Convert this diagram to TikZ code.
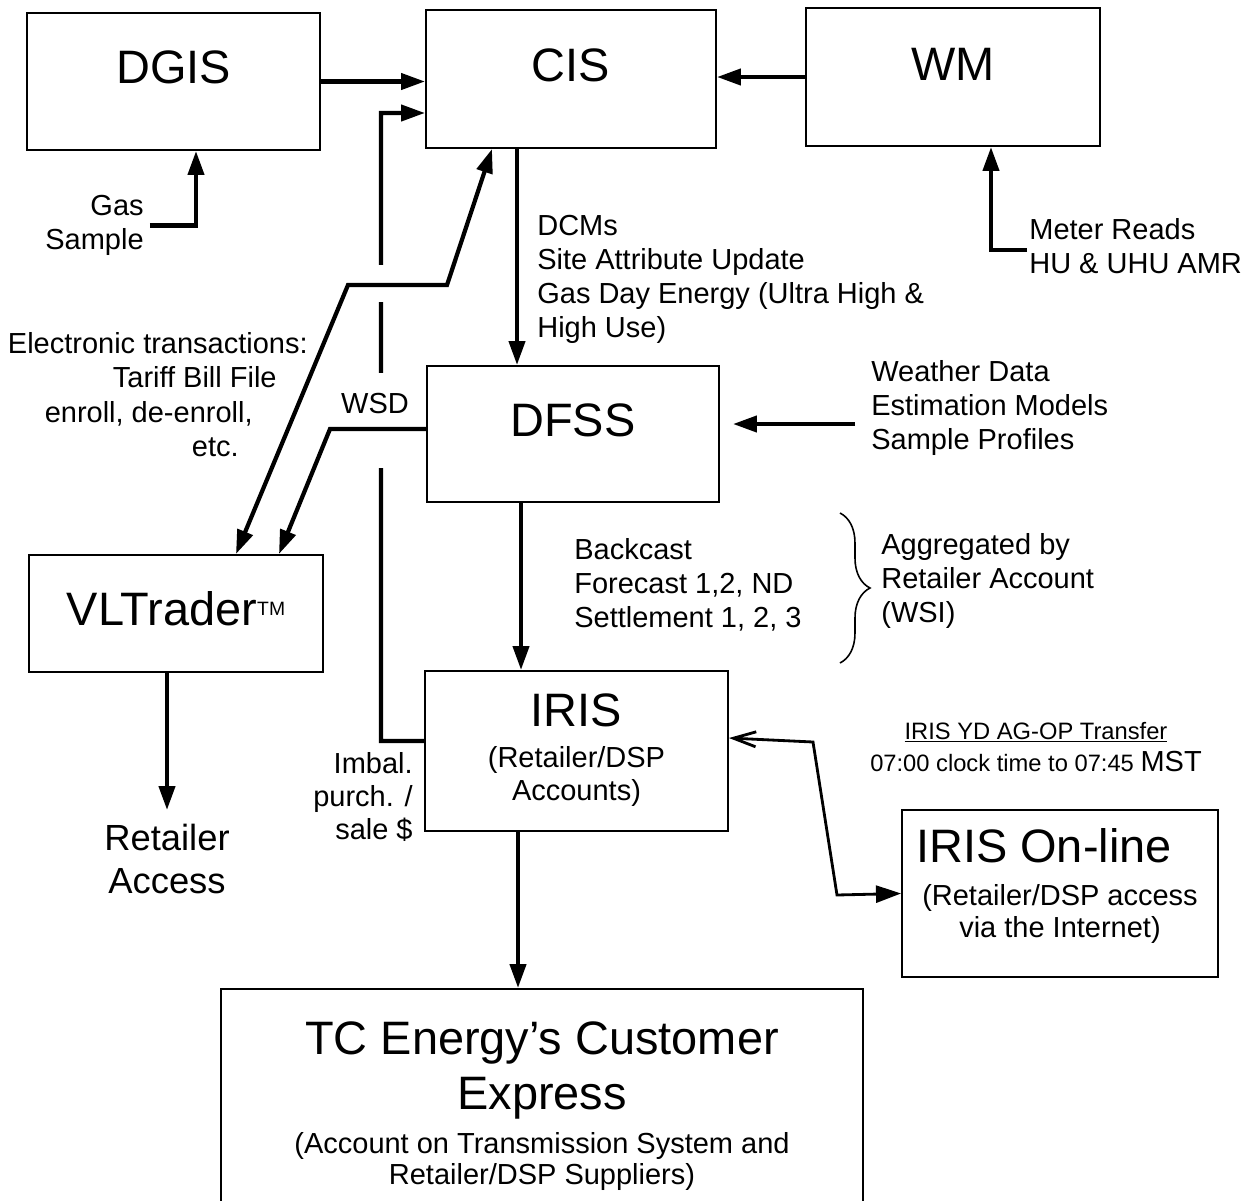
\documentclass[tikz,border=0pt]{standalone}
\usepackage{fontspec}
\setmainfont{Liberation Sans}
\usetikzlibrary{arrows.meta, positioning, calc, decorations.pathreplacing}

\begin{document}
\begin{tikzpicture}[x=0.02cm, y=-0.02cm,
    sysbox/.style={rectangle, draw, line width=1.15pt, inner sep=0pt},
    bigtxt/.style={font=\fontsize{26.7}{31.3}\selectfont, inner sep=0pt, anchor=base},
    txt/.style={font=\fontsize{16.5}{19.35}\selectfont, inner sep=0pt},
    flow/.style={line width=2.4pt, -{Triangle[length=0.48cm, width=0.32cm]}}]
    % Page frame
    \useasboundingbox (0,0) rectangle (1249,1201);

    % Systems
    \node[sysbox, minimum width=5.86cm, minimum height=2.74cm] (dgis) at (173.5,81.5) {};
    \node[sysbox, minimum width=5.80cm, minimum height=2.76cm] (cis) at (571,79) {};
    \node[sysbox, minimum width=5.88cm, minimum height=2.76cm] (wm) at (953,77) {};
    \node[sysbox, minimum width=5.84cm, minimum height=2.72cm] (dfss) at (573,434) {};
    \node[sysbox, minimum width=5.88cm, minimum height=2.34cm] (vlt) at (176,613.5) {};
    \node[sysbox, minimum width=6.06cm, minimum height=3.20cm] (iris) at (576.5,751) {};
    \node[sysbox, minimum width=6.32cm, minimum height=3.34cm] (online) at (1060,893.5) {};
    \node[sysbox, minimum width=12.84cm, minimum height=4.64cm] (tc) at (542,1105) {};

    % System names
    \node[bigtxt] (dgislbl) at ([yshift=-1.44cm]dgis.north) {DGIS};
    \node[bigtxt] (cislbl) at ([yshift=-1.46cm]cis.north) {CIS};
    \node[bigtxt] (wmlbl) at ([yshift=-1.48cm]wm.north) {WM};
    \node[bigtxt] (dfsslbl) at ([yshift=-1.44cm]dfss.north) {DFSS};
    \node[bigtxt] (vltlbl) at ([yshift=-1.44cm]vlt.north) {VLTrader\raisebox{0.2cm}{\fontsize{11}{11}\selectfont TM}};
    \node[bigtxt] (irislbl) at ([yshift=-1.12cm]iris.north) {IRIS};
    \node[bigtxt] (onlinelbl) at ([xshift=-0.32cm, yshift=-1.06cm]online.north) {IRIS On-line};
    \node[bigtxt, anchor=north, align=center] (tclbl) at ([yshift=-0.66cm]tc.north) {TC Energy’s Customer\\Express};

    \node[txt, anchor=north, align=center, font=\fontsize{16.5}{18.8}\selectfont] (irissub)
        at ([yshift=-1.52cm]iris.north) {(Retailer/DSP\\Accounts)};
    \node[txt, anchor=north, align=center, font=\fontsize{16.5}{18.2}\selectfont] (onlinesub)
        at ([yshift=-1.5cm]online.north) {(Retailer/DSP access\\via the Internet)};
    \node[txt, anchor=north, align=center, font=\fontsize{16.5}{17.6}\selectfont] (tcsub)
        at ([yshift=-2.88cm]tc.north) {(Account on Transmission System and\\Retailer/DSP Suppliers)};

    % Notes
    \node[txt, anchor=north east, align=right] (gas) at (144,195) {Gas\\Sample};
    \node[txt, anchor=north west, align=left] (dcms) at (537,215)
        {DCMs\\Site Attribute Update\\Gas Day Energy (Ultra High \&\\High Use)};
    \node[txt, anchor=north west, align=left] (meter) at (1029,218) {Meter Reads\\HU \& UHU AMR};
    \node[txt, anchor=base east] (elec1) at (308,353) {Electronic transactions:};
    \node[txt, anchor=base east] (elec2) at (277,387.5) {Tariff Bill File};
    \node[txt, anchor=base east] (elec3) at (253,422) {enroll, de-enroll,};
    \node[txt, anchor=base east] (elec4) at (239,456) {etc.};
    \node[txt, anchor=north west, align=left] (weather) at (871,360)
        {Weather Data\\Estimation Models\\Sample Profiles};
    \node[txt, anchor=north west, align=left] (fcast) at (574,538)
        {Backcast\\Forecast 1,2, ND\\Settlement 1, 2, 3};
    \node[txt, anchor=north west, align=left] (aggr) at (881,533)
        {Aggregated by\\Retailer Account\\(WSI)};
    \node[txt, anchor=north east, align=right, font=\fontsize{16.5}{18.8}\selectfont] (imbal)
        at (413,752) {Imbal.\\purch. /\\sale \$};
    \node[txt, anchor=north, align=center, font=\fontsize{13.5}{18.2}\selectfont] (xfer) at (1036,721.5)
        {\underline{IRIS YD AG-OP Transfer}\\07:00 clock time to 07:45 {\fontsize{16.5}{18.2}\selectfont MST}};
    \node[txt, anchor=north, align=center, font=\fontsize{20.7}{24.5}\selectfont] (retail) at (167,824)
        {Retailer\\Access};

    % Brace for aggregation
    \coordinate (bracetop) at (840,513);
    \coordinate (bracebot) at (840,663);
    \draw[line width=0.9pt, decorate, decoration={brace, amplitude=0.6cm}] (bracetop) -- (bracebot);

    % Imbalance back to CIS (broken where lines cross)
    \coordinate (imbk) at (381,113);
    \draw[flow] ([yshift=0.2cm]iris.west) -| (imbk) -- ([yshift=-0.68cm]cis.west);
    \fill[white] (372,265) rectangle (390,302);
    \fill[white] (372,373) rectangle (390,468);
    \node[txt] (wsd) at (375,404) {WSD};

    % Flows
    \draw[flow] (dgis.east) -- (dgis.east -| cis.west);
    \draw[flow] (wm.west) -- (wm.west -| cis.east);
    \draw[flow] ([xshift=0.12cm]gas.east) -| ([xshift=0.45cm]dgis.south);
    \draw[flow] ([xshift=-0.04cm, yshift=-0.08cm]meter.west) -| ([xshift=0.76cm]wm.south);
    \draw[flow] ([xshift=-1.08cm]cis.south) -- ([xshift=-1.08cm]cis.south |- dfss.north);
    \coordinate (dfssin) at ([yshift=0.2cm]dfss.east);
    \draw[flow, shorten >=0.26cm] ([xshift=-0.32cm]weather.west |- dfssin) -- (dfssin);
    \draw[flow] ([xshift=-1.04cm]dfss.south) -- ([xshift=-1.04cm]dfss.south |- iris.north);
    \draw[flow] ([xshift=-1.17cm]iris.south) -- ([xshift=-1.17cm]iris.south |- tc.north);
    \draw[flow, shorten >=0.28cm] ([xshift=-0.18cm]vlt.south) -- ([xshift=-0.18cm]vlt.south |- retail.north);

    % Electronic transactions and WSD to VLTrader
    \coordinate (etk1) at (447,285);
    \coordinate (etk2) at (348,285);
    \draw[flow, {Triangle[length=0.48cm, width=0.32cm]}-{Triangle[length=0.48cm, width=0.32cm]}]
        ([xshift=-1.58cm]cis.south) -- (etk1) -- (etk2) -- ([xshift=1.2cm]vlt.north);
    \coordinate (wsdk) at (330,429);
    \draw[flow] ([yshift=0.1cm]dfss.west) -- (wsdk) -- ([xshift=2.06cm]vlt.north);

    % IRIS to IRIS On-line
    \coordinate (onk1) at (813,742);
    \coordinate (onk2) at (837,895);
    \draw[line width=1.6pt, {Straight Barb[length=0.45cm, width=0.3cm]}-{Triangle[length=0.5cm, width=0.34cm]}]
        ([yshift=0.26cm]iris.east) -- (onk1) -- (onk2) -- (online.west);
\end{tikzpicture}
\end{document}
